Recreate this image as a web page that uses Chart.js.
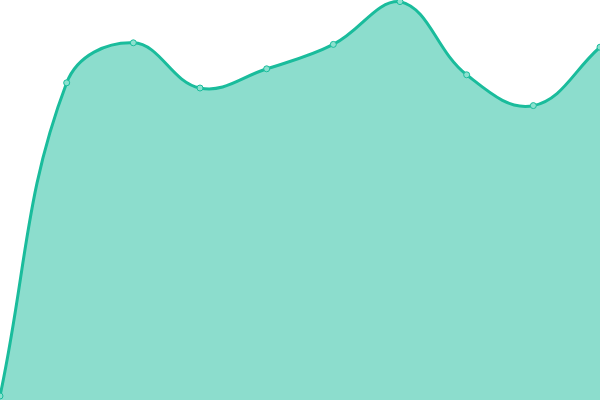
<!DOCTYPE html>
<html>
<head>
<meta charset="utf-8">
<script src="https://cdn.jsdelivr.net/npm/chart.js@4"></script>
<style>
html,body{margin:0;padding:0;background:#fff;}
#wrap{width:600px;height:400px;}
</style>
</head>
<body>
<div id="wrap"><canvas id="c"></canvas></div>
<script>
const labels = ["1","2","3","4","5","6","7","8","9","10"];
const values = [1, 79.3, 89.3, 78, 82.8, 88.9, 99.6, 81.3, 73.6, 88.2];
const yMin = 0;
const yMax = 100;

new Chart(document.getElementById('c'), {
  type: 'line',
  data: {
    labels: labels,
    datasets: [{
      data: values,
      fill: true,
      backgroundColor: 'rgba(26,188,156,0.5)',
      borderColor: '#1abc9c',
      borderWidth: 3,
      tension: 0.4,
      pointRadius: 3,
      pointBorderWidth: 1,
      pointBackgroundColor: 'rgba(140,225,207,1)',
      pointBorderColor: '#1abc9c'
    }]
  },
  options: {
    responsive: true,
    maintainAspectRatio: false,
    animation: false,
    layout: { padding: 0, autoPadding: false },
    plugins: { legend: { display: false }, tooltip: { enabled: false } },
    scales: {
      x: { display: false },
      y: { display: false, min: yMin, max: yMax }
    }
  }
});
</script>
</body>
</html>
